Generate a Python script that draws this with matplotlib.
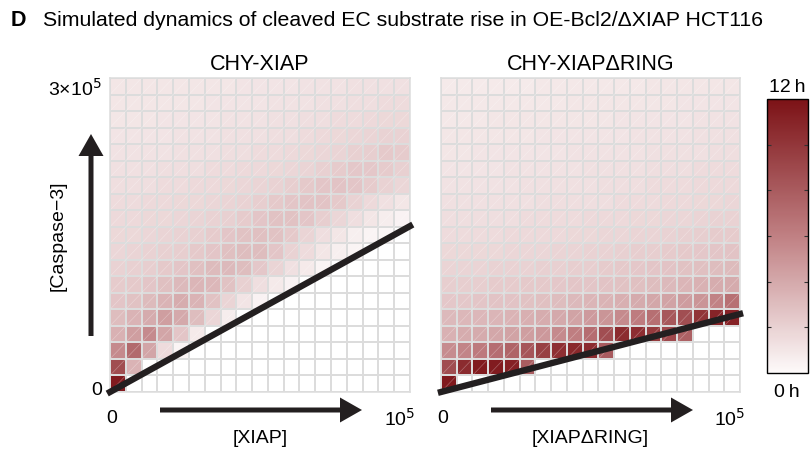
import numpy as np
import matplotlib
matplotlib.use("Agg")
import matplotlib.pyplot as plt
from matplotlib.colors import LinearSegmentedColormap
from matplotlib.collections import LineCollection
from matplotlib.patches import FancyArrow

plt.rcParams['font.family'] = ['Liberation Sans', 'DejaVu Sans']

nan = np.nan

xiap_max = 1e5
casp_max = 3e5
n_bins = 19
t_max = 12

# time of cleaved substrate rise (h); rows from top ([Caspase-3] high) to bottom, nan = no rise
onset_xiap = [
    [1.0, 1.0, 1.0, 1.0, 1.0, 1.0, 1.0, 1.0, 1.1, 1.1, 1.1, 1.1, 1.2, 1.2, 1.2, 1.3, 1.3, 1.3, 1.3],
    [1.0, 1.0, 1.0, 1.0, 1.0, 1.0, 1.1, 1.1, 1.1, 1.1, 1.2, 1.2, 1.2, 1.3, 1.3, 1.4, 1.4, 1.5, 1.5],
    [1.0, 1.0, 1.0, 1.1, 1.1, 1.1, 1.1, 1.2, 1.2, 1.2, 1.3, 1.3, 1.4, 1.4, 1.5, 1.5, 1.6, 1.7, 1.7],
    [1.1, 1.1, 1.1, 1.1, 1.2, 1.2, 1.2, 1.3, 1.3, 1.3, 1.4, 1.4, 1.5, 1.6, 1.7, 1.8, 1.9, 2.0, 2.0],
    [1.2, 1.2, 1.2, 1.2, 1.3, 1.3, 1.3, 1.4, 1.4, 1.5, 1.5, 1.6, 1.7, 1.8, 1.9, 2.1, 2.2, 2.4, 2.3],
    [1.3, 1.3, 1.3, 1.4, 1.4, 1.4, 1.5, 1.5, 1.6, 1.6, 1.7, 1.8, 1.9, 2.1, 2.3, 2.5, 2.5, 2.3, 2.1],
    [1.4, 1.4, 1.4, 1.5, 1.5, 1.6, 1.6, 1.7, 1.8, 1.9, 2.0, 2.2, 2.4, 2.6, 2.7, 2.6, 2.3, 2.0, 1.8],
    [1.5, 1.5, 1.6, 1.6, 1.7, 1.7, 1.8, 1.9, 2.0, 2.2, 2.4, 2.6, 2.7, 2.7, 2.4, 2.0, 1.6, 1.3, 1.0],
    [1.6, 1.6, 1.7, 1.7, 1.8, 1.9, 2.0, 2.1, 2.3, 2.6, 2.8, 2.8, 2.6, 2.2, 1.8, 1.4, 1.0, 0.7, 0.4],
    [1.7, 1.7, 1.8, 1.9, 2.0, 2.1, 2.3, 2.6, 2.8, 2.9, 2.8, 2.4, 1.9, 1.4, 1.0, 0.6, 0.3, 0.2, nan],
    [1.8, 1.9, 2.0, 2.1, 2.2, 2.4, 2.6, 2.9, 3.0, 3.0, 2.6, 2.0, 1.5, 1.0, 0.6, 0.3, nan, nan, nan],
    [2.0, 2.1, 2.2, 2.4, 2.6, 2.9, 3.1, 3.2, 3.0, 2.5, 1.9, 1.3, 0.8, 0.3, nan, nan, nan, nan, nan],
    [2.3, 2.4, 2.6, 2.9, 3.2, 3.4, 3.3, 2.8, 2.1, 1.4, 0.8, 0.4, nan, nan, nan, nan, nan, nan, nan],
    [2.6, 2.8, 3.1, 3.5, 3.8, 3.5, 2.8, 1.9, 1.1, 0.4, nan, nan, nan, nan, nan, nan, nan, nan, nan],
    [3.0, 3.5, 3.9, 4.5, 4.0, 3.0, 1.8, 0.7, nan, nan, nan, nan, nan, nan, nan, nan, nan, nan, nan],
    [3.6, 4.5, 5.5, 4.2, 2.6, 0.8, nan, nan, nan, nan, nan, nan, nan, nan, nan, nan, nan, nan, nan],
    [5.5, 7.2, 4.2, 1.5, 0.3, nan, nan, nan, nan, nan, nan, nan, nan, nan, nan, nan, nan, nan, nan],
    [8.8, 3.5, nan, nan, nan, nan, nan, nan, nan, nan, nan, nan, nan, nan, nan, nan, nan, nan, nan],
    [11.5, nan, nan, nan, nan, nan, nan, nan, nan, nan, nan, nan, nan, nan, nan, nan, nan, nan, nan],
]

onset_dring = [
    [0.8, 0.8, 0.8, 0.8, 0.8, 0.8, 0.9, 0.9, 0.9, 0.9, 0.9, 0.9, 0.9, 1.0, 1.0, 1.0, 1.0, 1.0, 1.0],
    [0.9, 0.9, 0.9, 0.9, 0.9, 0.9, 0.9, 0.9, 1.0, 1.0, 1.0, 1.0, 1.0, 1.0, 1.0, 1.1, 1.1, 1.1, 1.1],
    [0.9, 0.9, 0.9, 1.0, 1.0, 1.0, 1.0, 1.0, 1.0, 1.0, 1.0, 1.1, 1.1, 1.1, 1.1, 1.1, 1.2, 1.2, 1.2],
    [1.0, 1.0, 1.0, 1.0, 1.0, 1.0, 1.1, 1.1, 1.1, 1.1, 1.1, 1.1, 1.2, 1.2, 1.2, 1.2, 1.3, 1.3, 1.3],
    [1.0, 1.0, 1.1, 1.1, 1.1, 1.1, 1.1, 1.1, 1.2, 1.2, 1.2, 1.2, 1.2, 1.3, 1.3, 1.3, 1.3, 1.4, 1.4],
    [1.1, 1.1, 1.1, 1.1, 1.2, 1.2, 1.2, 1.2, 1.2, 1.3, 1.3, 1.3, 1.3, 1.4, 1.4, 1.4, 1.5, 1.5, 1.5],
    [1.2, 1.2, 1.2, 1.2, 1.2, 1.3, 1.3, 1.3, 1.3, 1.3, 1.4, 1.4, 1.4, 1.5, 1.5, 1.5, 1.6, 1.6, 1.6],
    [1.3, 1.3, 1.3, 1.3, 1.3, 1.3, 1.4, 1.4, 1.4, 1.4, 1.4, 1.5, 1.5, 1.5, 1.6, 1.6, 1.7, 1.7, 1.8],
    [1.4, 1.4, 1.4, 1.4, 1.4, 1.5, 1.5, 1.5, 1.5, 1.6, 1.6, 1.6, 1.7, 1.7, 1.8, 1.8, 1.9, 2.0, 2.0],
    [1.5, 1.5, 1.5, 1.5, 1.6, 1.6, 1.6, 1.6, 1.7, 1.7, 1.8, 1.8, 1.9, 1.9, 2.0, 2.1, 2.2, 2.3, 2.3],
    [1.7, 1.7, 1.7, 1.7, 1.8, 1.8, 1.8, 1.9, 1.9, 2.0, 2.0, 2.1, 2.2, 2.2, 2.3, 2.4, 2.5, 2.6, 2.7],
    [1.9, 1.9, 1.9, 2.0, 2.0, 2.0, 2.1, 2.1, 2.2, 2.2, 2.3, 2.4, 2.5, 2.6, 2.7, 2.8, 2.9, 3.0, 3.1],
    [2.2, 2.2, 2.2, 2.3, 2.3, 2.4, 2.4, 2.5, 2.6, 2.6, 2.7, 2.8, 2.9, 3.0, 3.2, 3.4, 3.6, 3.8, 3.9],
    [2.5, 2.5, 2.6, 2.7, 2.7, 2.8, 2.9, 3.0, 3.2, 3.4, 3.5, 3.7, 3.9, 4.1, 4.3, 4.6, 5.0, 5.9, 6.8],
    [3.2, 3.3, 3.3, 3.4, 3.5, 3.7, 3.8, 4.0, 4.3, 4.7, 5.0, 5.5, 6.2, 6.9, 8.2, 8.7, 10.1, 11.0, 11.1],
    [3.6, 3.8, 3.9, 4.1, 4.3, 4.5, 4.8, 5.5, 6.1, 7.0, 8.7, 10.6, 10.5, 9.8, 9.0, 7.7, nan, nan, nan],
    [5.4, 5.8, 6.3, 7.0, 7.5, 8.3, 9.5, 10.4, 10.8, 10.6, 8.0, nan, nan, nan, nan, nan, nan, nan, nan],
    [8.8, 10.6, 11.5, 11.5, 11.2, 7.9, nan, nan, nan, nan, nan, nan, nan, nan, nan, nan, nan, nan, nan],
    [11.6, nan, nan, nan, nan, nan, nan, nan, nan, nan, nan, nan, nan, nan, nan, nan, nan, nan, nan],
]

# separatrix drawn as a black line: [XIAP] end points and matching [Caspase-3]
boundary_x = [0, 1e5]
boundary_xiap_y = [0, 1.585e5]
boundary_dring_y = [0, 0.745e5]

panel_titles = ['CHY-XIAP', 'CHY-XIAP\u0394RING']
x_labels = ['[XIAP]', '[XIAP\u0394RING]']

W, H = 811, 452
grid_color = '#dcdcdc'
line_color = '#231f20'

cmap = LinearSegmentedColormap.from_list(
    'rise', ['#fdfafa', '#c08083', '#7c1216'])
cmap = cmap.with_extremes(bad='white')


def px_box(x0, y0, x1, y1):
    # pixel box (top-left origin) -> figure fraction rect
    return [x0 / W, 1 - y1 / H, (x1 - x0) / W, (y1 - y0) / H]


def draw_heatmap(ax, values, boundary_y):
    x_edges = np.linspace(0, xiap_max, n_bins + 1)
    y_edges = np.linspace(0, casp_max, n_bins + 1)
    data = np.ma.masked_invalid(np.flipud(np.array(values)))
    mesh = ax.pcolormesh(x_edges, y_edges, data, cmap=cmap, vmin=0, vmax=t_max,
                         edgecolors=grid_color, linewidth=1.1)

    # faint diagonal seam inside every filled cell (as in the exported figure)
    rows, cols = np.nonzero(~data.mask)
    segs = [[(x_edges[c], y_edges[r]), (x_edges[c + 1], y_edges[r + 1])]
            for r, c in zip(rows, cols)]
    ax.add_collection(LineCollection(segs, colors='white', linewidths=0.5,
                                     alpha=0.3, zorder=2))

    ax.plot(boundary_x, boundary_y, color=line_color, lw=4.6,
            solid_capstyle='projecting', clip_on=False, zorder=5)
    ax.set_xlim(0, xiap_max)
    ax.set_ylim(0, casp_max)
    ax.set_xticks([])
    ax.set_yticks([])
    for s in ax.spines.values():
        s.set_color(grid_color)
        s.set_linewidth(1.1)
    return mesh


fig = plt.figure(figsize=(W / 100, H / 100), dpi=100)

ax1 = fig.add_axes(px_box(110, 79, 410, 393))
ax2 = fig.add_axes(px_box(441, 79, 740, 393))
mesh = draw_heatmap(ax1, onset_xiap, boundary_xiap_y)
draw_heatmap(ax2, onset_dring, boundary_dring_y)

cax = fig.add_axes(px_box(767, 100, 808, 374))
cb = fig.colorbar(mesh, cax=cax, ticks=[2, 4, 6, 8, 10])
cb.ax.tick_params(direction='in', length=3, width=0.8, left=True, right=True,
                  labelleft=False, labelright=False, colors='#333333')
cb.outline.set_linewidth(1.0)
cb.outline.set_edgecolor('black')

# overlay in pixel units for labels and arrows
ov = fig.add_axes([0, 0, 1, 1], facecolor='none')
ov.set_xlim(0, W)
ov.set_ylim(H, 0)
ov.axis('off')

fs = 14
ov.text(11, 21, 'D', fontsize=15.5, fontweight='bold', va='center', ha='left')
ov.text(43, 21, 'Simulated dynamics of cleaved EC substrate rise in OE-Bcl2/\u0394XIAP HCT116',
        fontsize=15.3, va='center', ha='left')

for i, (x0, x1) in enumerate([(110, 410), (441, 740)]):
    xc = (x0 + x1) / 2
    ov.text(xc, 65, panel_titles[i], fontsize=15.5, ha='center', va='center')
    ov.text(x0 + 2, 419, '0', fontsize=fs, ha='center', va='center')
    ov.text(x1 - 10, 419, '10$^5$', fontsize=fs, ha='center', va='center')
    ov.text(xc, 439, x_labels[i], fontsize=fs, ha='center', va='center')
    ov.add_patch(FancyArrow(x0 + 50, 411, 202, 0, width=5, head_width=25,
                            head_length=22, length_includes_head=True,
                            color=line_color, lw=0))

ov.text(102, 89, '3\u00d710$^5$', fontsize=fs, ha='right', va='center')
ov.text(102, 391, '0', fontsize=fs, ha='right', va='center')
ov.text(58, 236, '[Caspase\u22123]', fontsize=fs, ha='center', va='center', rotation=90)
ov.add_patch(FancyArrow(91, 337, 0, -202, width=5, head_width=25,
                        head_length=22, length_includes_head=True,
                        color=line_color, lw=0))

ov.text(787, 87, '12\u2009h', fontsize=fs, ha='center', va='center')
ov.text(787, 393, '0\u2009h', fontsize=fs, ha='center', va='center')

fig.savefig('out.png', dpi=100)
